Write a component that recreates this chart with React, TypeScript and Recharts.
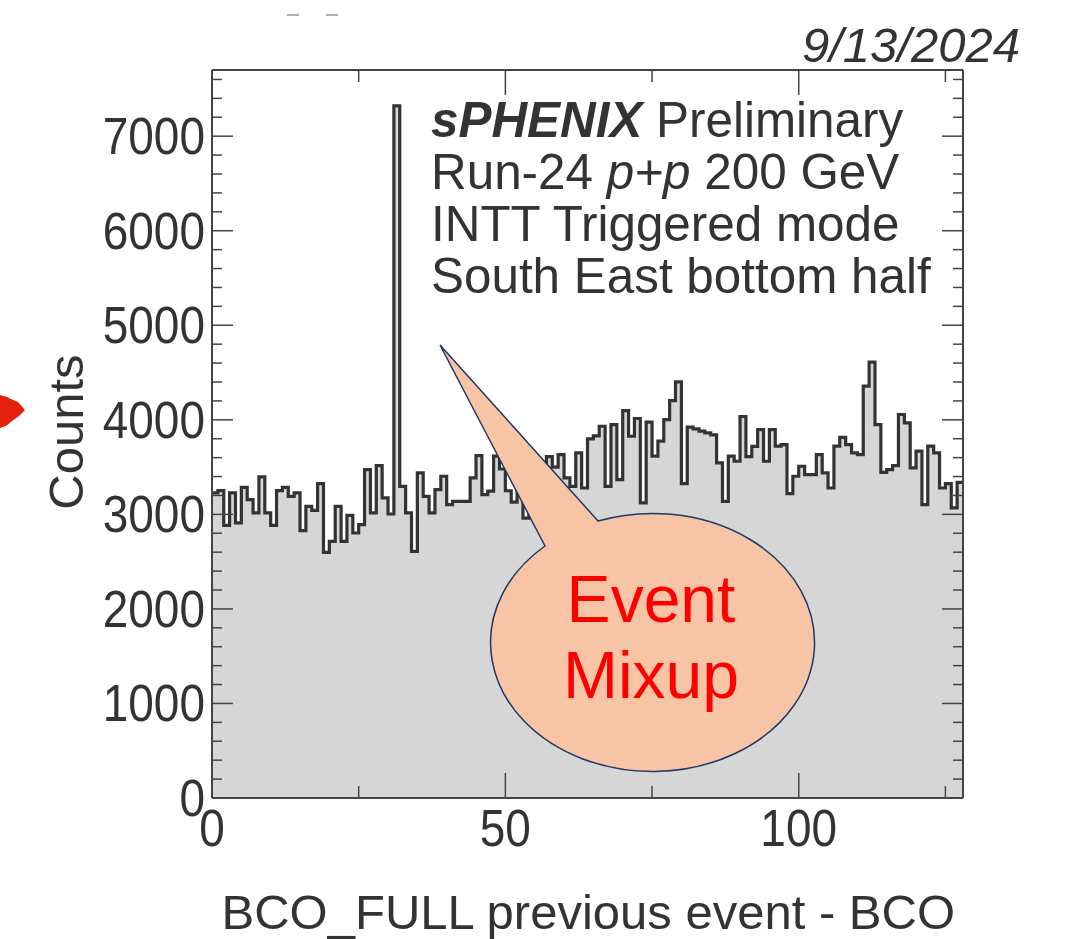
import { AreaChart, Area, XAxis, YAxis } from 'recharts'

// counts per BCO difference bin (bins 0..127, unit width)
const counts = [
  3227, 3251, 2884, 3227, 2909, 3286, 3156, 3015, 3396, 3015,
  2884, 3251, 3286, 3191, 3227, 2828, 3085, 3043, 3325, 2598,
  2715, 3085, 2715, 2990, 2803, 2891, 3474, 3015, 3516, 3174,
  3004, 7320, 3297, 3015, 2609, 3438, 3191, 3015, 3262, 3403,
  3103, 3138, 3138, 3138, 3385, 3622, 3209, 3245, 3615, 3480,
  3250, 3130, 3300, 2960, 3350, 3450, 3380, 3610, 3500, 3632,
  3385, 3297, 3650, 3279, 3798, 3830, 3932, 3297, 3950, 3368,
  4098, 3826, 4014, 3121, 3975, 3615, 3774, 4003, 4204, 4402,
  3325, 3922, 3904, 3880, 3862, 3840, 3544, 3138, 3615, 3562,
  4035, 3610, 3720, 3897, 3562, 3897, 3721, 3738, 3219, 3403,
  3509, 3420, 3420, 3632, 3438, 3279, 3721, 3815, 3738, 3650,
  3632, 4356, 4610, 3950, 3445, 3474, 3516, 4056, 3968, 3491,
  3668, 3103, 3721, 3650, 3279, 3325, 3068, 3339,
]

const xTicks = [0, 25, 50, 75, 100, 125]
const xLabels = [0, 50, 100]
const yTicks = Array.from({ length: 39 }, (_, i) => i * 200)
const yLabels = [0, 1000, 2000, 3000, 4000, 5000, 6000, 7000]

const infoLines = ['Preliminary', 'Run-24', 'p+p', '200 GeV', 'INTT Triggered mode', 'South East bottom half']

// step area needs a closing point at the upper edge of the last bin
const histData = [
  ...counts.map((c, i) => ({ bin: i, counts: c })),
  { bin: counts.length, counts: counts[counts.length - 1] },
]

const FONT = '"Liberation Sans", Arial, Helvetica, sans-serif'
const INK = '#333333'
const FRAME = '#444444'

// tick labels are drawn slightly taller than wide, like the ROOT canvas export
function TickLabel({ x, y, anchor, value }: any) {
  return (
    <text
      transform={`translate(${x}, ${y}) scale(1, 1.12)`}
      textAnchor={anchor}
      fontSize={46}
      fill={INK}
      fontFamily={FONT}
    >
      {value}
    </text>
  )
}

function BottomTick({ x, y, payload }: any) {
  const major = xLabels.includes(payload.value)
  return (
    <g>
      <line x1={x} y1={y} x2={x} y2={y - (major ? 25 : 12)} stroke={FRAME} strokeWidth={1.5} />
      {major && <TickLabel x={x} y={y + 48} anchor="middle" value={payload.value} />}
    </g>
  )
}

function TopTick({ x, y, payload }: any) {
  const major = xLabels.includes(payload.value)
  return <line x1={x} y1={y} x2={x} y2={y + (major ? 25 : 12)} stroke={FRAME} strokeWidth={1.5} />
}

function LeftTick({ x, y, payload }: any) {
  const major = yLabels.includes(payload.value)
  return (
    <g>
      <line x1={x} y1={y} x2={x + (major ? 21 : 10)} y2={y} stroke={FRAME} strokeWidth={1.5} />
      {major && <TickLabel x={x - 7} y={y + 18} anchor="end" value={payload.value} />}
    </g>
  )
}

function RightTick({ x, y, payload }: any) {
  const major = yLabels.includes(payload.value)
  return <line x1={x} y1={y} x2={x - (major ? 21 : 10)} y2={y} stroke={FRAME} strokeWidth={1.5} />
}

export default function App() {
  return (
    <div style={{ position: 'absolute', left: 0, top: 0, width: 1071, height: 939, background: '#fff' }}>
      <AreaChart width={1071} height={939} data={histData} margin={{ top: 0, right: 0, bottom: 0, left: 0 }}>
        <XAxis
          dataKey="bin"
          type="number"
          domain={[0, 128]}
          allowDataOverflow
          ticks={xTicks}
          interval={0}
          height={141}
          tickSize={0}
          tickMargin={0}
          tickLine={false}
          axisLine={{ stroke: FRAME, strokeWidth: 2 }}
          tick={<BottomTick />}
        />
        <XAxis
          xAxisId="top"
          orientation="top"
          dataKey="bin"
          type="number"
          domain={[0, 128]}
          allowDataOverflow
          ticks={xTicks}
          interval={0}
          height={70}
          tickSize={0}
          tickMargin={0}
          tickLine={false}
          axisLine={{ stroke: FRAME, strokeWidth: 2 }}
          tick={<TopTick />}
        />
        <YAxis
          type="number"
          domain={[0, 7700]}
          allowDataOverflow
          ticks={yTicks}
          interval={0}
          width={212}
          tickSize={0}
          tickMargin={0}
          tickLine={false}
          axisLine={{ stroke: FRAME, strokeWidth: 2 }}
          tick={<LeftTick />}
        />
        <YAxis
          yAxisId="right"
          orientation="right"
          type="number"
          domain={[0, 7700]}
          allowDataOverflow
          ticks={yTicks}
          interval={0}
          width={108}
          tickSize={0}
          tickMargin={0}
          tickLine={false}
          axisLine={{ stroke: FRAME, strokeWidth: 2 }}
          tick={<RightTick />}
        />
        <Area
          type="stepAfter"
          dataKey="counts"
          stroke={INK}
          strokeWidth={3.2}
          fill="#d6d6d6"
          fillOpacity={1}
          dot={false}
          activeDot={false}
          isAnimationActive={false}
        />
      </AreaChart>

      {/* labels, date stamp and the callout balloon */}
      <svg
        width={1071}
        height={939}
        style={{ position: 'absolute', left: 0, top: 0, pointerEvents: 'none' }}
        fontFamily={FONT}
      >
        <line x1={287} y1={15} x2={299} y2={15} stroke="#b0b0b0" strokeWidth={2} />
        <line x1={326} y1={15} x2={338} y2={15} stroke="#b0b0b0" strokeWidth={2} />
        <polygon points="0,395 7,397 13,400 18,402 25,410 19,416 12,421 6,426 0,428" fill="#e5200c" />

        <text x={1020} y={62} textAnchor="end" fontSize={49} fontStyle="italic" fill={INK}>
          9/13/2024
        </text>

        <text x={431} y={137} fontSize={49.4} fill={INK}>
          <tspan fontWeight="bold" fontStyle="italic">sPHENIX</tspan>
          <tspan> {infoLines[0]}</tspan>
        </text>
        <text x={431} y={189} fontSize={49.4} fill={INK}>
          <tspan>{infoLines[1]} </tspan>
          <tspan fontStyle="italic">{infoLines[2]}</tspan>
          <tspan> {infoLines[3]}</tspan>
        </text>
        <text x={431} y={241} fontSize={49.4} fill={INK}>
          {infoLines[4]}
        </text>
        <text x={431} y={293} fontSize={49.4} fill={INK}>
          {infoLines[5]}
        </text>

        <text x={83} y={432} fontSize={49} fill={INK} textAnchor="middle" transform="rotate(-90, 83, 432)">
          Counts
        </text>
        <text x={955} y={929} fontSize={49} fill={INK} textAnchor="end">
          BCO_FULL previous event - BCO
        </text>

        <path
          d="M 440 345 L 545 546 A 162 129 0 1 0 598 521 Z"
          fill="#f7c4a5"
          stroke="#1f3864"
          strokeWidth={1.5}
        />
        <text x={651} y={622} fontSize={66} fill="#ff0000" textAnchor="middle">
          Event
        </text>
        <text x={651} y={698} fontSize={66} fill="#ff0000" textAnchor="middle">
          Mixup
        </text>
      </svg>
    </div>
  )
}
